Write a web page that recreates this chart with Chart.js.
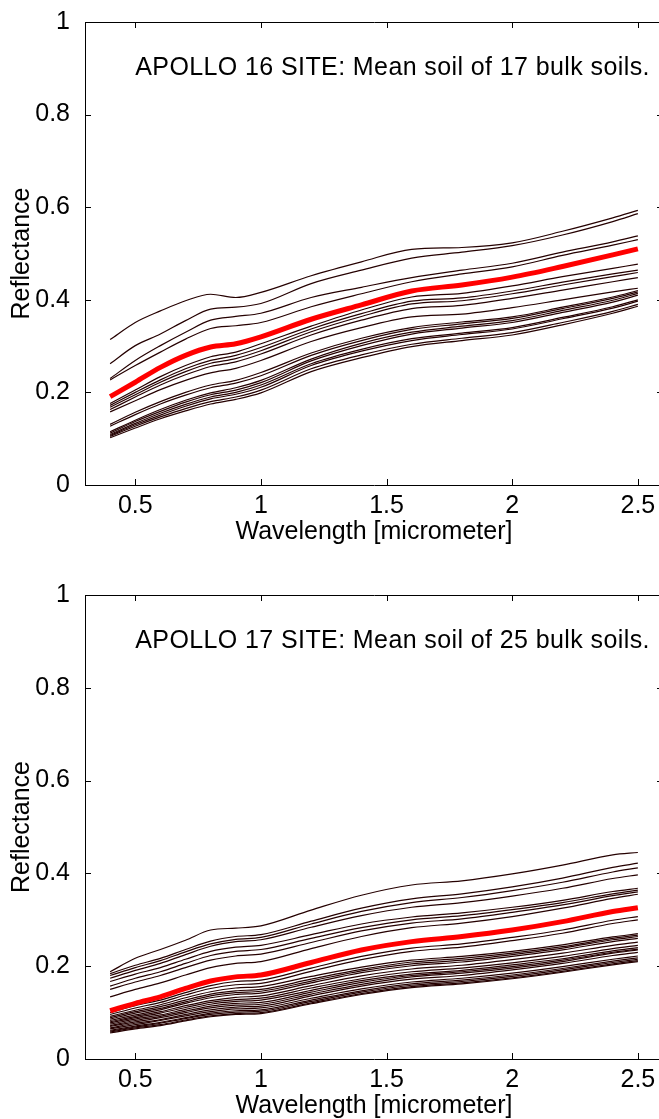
<!DOCTYPE html>
<html>
<head>
<meta charset="utf-8">
<script src="https://cdn.jsdelivr.net/npm/chart.js@4.4.1/dist/chart.umd.min.js"></script>
<style>
  html, body { margin: 0; padding: 0; background: #fff; overflow: hidden; }
  #wrap { position: relative; width: 659px; height: 1119px; overflow: hidden; }
  canvas { position: absolute; left: 0; }
  #top { top: 0; }
  #bottom { top: 555px; }
</style>
</head>
<body>
<div id="wrap">
  <canvas id="top" width="663" height="555"></canvas>
  <canvas id="bottom" width="663" height="574"></canvas>
</div>
<script>
// wavelengths [micrometer] the curves are sampled at
const wavelengths = [0.4, 0.5, 0.6, 0.7, 0.8, 0.9, 1.0, 1.2, 1.4, 1.6, 1.8, 2.0, 2.2, 2.4, 2.5];
const xTicks = [0.5, 1, 1.5, 2, 2.5];
const yTicks = [0, 0.2, 0.4, 0.6, 0.8, 1];

// Apollo 16: 17 bulk soils + mean
const a16Soils = [
  [0.314, 0.351, 0.376, 0.398, 0.412, 0.405, 0.416, 0.452, 0.482, 0.509, 0.513, 0.523, 0.548, 0.577, 0.593],
  [0.262, 0.301, 0.326, 0.355, 0.380, 0.384, 0.392, 0.435, 0.464, 0.490, 0.503, 0.517, 0.540, 0.569, 0.586],
  [0.230, 0.269, 0.301, 0.330, 0.356, 0.364, 0.371, 0.405, 0.427, 0.448, 0.464, 0.479, 0.503, 0.525, 0.538],
  [0.227, 0.258, 0.287, 0.315, 0.338, 0.344, 0.351, 0.385, 0.413, 0.439, 0.456, 0.471, 0.496, 0.518, 0.530],
  [0.176, 0.205, 0.234, 0.258, 0.277, 0.287, 0.305, 0.343, 0.378, 0.406, 0.414, 0.430, 0.450, 0.468, 0.477],
  [0.172, 0.200, 0.227, 0.251, 0.269, 0.280, 0.297, 0.337, 0.370, 0.397, 0.404, 0.419, 0.438, 0.456, 0.464],
  [0.168, 0.195, 0.222, 0.245, 0.263, 0.273, 0.290, 0.331, 0.364, 0.391, 0.398, 0.413, 0.432, 0.450, 0.459],
  [0.163, 0.190, 0.216, 0.238, 0.256, 0.266, 0.283, 0.324, 0.356, 0.381, 0.388, 0.403, 0.421, 0.439, 0.448],
  [0.158, 0.182, 0.206, 0.226, 0.242, 0.252, 0.269, 0.310, 0.340, 0.363, 0.369, 0.383, 0.400, 0.417, 0.425],
  [0.131, 0.157, 0.180, 0.200, 0.216, 0.226, 0.243, 0.285, 0.317, 0.340, 0.352, 0.363, 0.384, 0.406, 0.420],
  [0.127, 0.152, 0.175, 0.194, 0.210, 0.220, 0.236, 0.280, 0.312, 0.336, 0.348, 0.360, 0.381, 0.403, 0.417],
  [0.115, 0.140, 0.163, 0.183, 0.199, 0.210, 0.226, 0.272, 0.306, 0.330, 0.343, 0.355, 0.377, 0.399, 0.414],
  [0.112, 0.137, 0.159, 0.179, 0.195, 0.205, 0.221, 0.268, 0.301, 0.326, 0.339, 0.351, 0.373, 0.395, 0.410],
  [0.109, 0.133, 0.155, 0.174, 0.190, 0.200, 0.216, 0.262, 0.293, 0.316, 0.328, 0.340, 0.362, 0.385, 0.400],
  [0.107, 0.130, 0.151, 0.170, 0.186, 0.196, 0.211, 0.258, 0.289, 0.312, 0.325, 0.337, 0.359, 0.382, 0.397],
  [0.105, 0.127, 0.147, 0.165, 0.180, 0.190, 0.205, 0.251, 0.281, 0.304, 0.317, 0.329, 0.351, 0.375, 0.390],
  [0.102, 0.123, 0.143, 0.160, 0.175, 0.185, 0.199, 0.245, 0.275, 0.299, 0.312, 0.324, 0.346, 0.371, 0.386]
];
const a16Mean = [0.191, 0.222, 0.254, 0.280, 0.298, 0.305, 0.320, 0.358, 0.389, 0.419, 0.432, 0.449, 0.472, 0.497, 0.510];

// Apollo 17: 25 bulk soils + mean
const a17Soils = [
  [0.188, 0.217, 0.236, 0.256, 0.278, 0.282, 0.287, 0.321, 0.353, 0.375, 0.384, 0.399, 0.418, 0.440, 0.445],
  [0.184, 0.202, 0.217, 0.236, 0.254, 0.264, 0.268, 0.297, 0.325, 0.345, 0.356, 0.371, 0.390, 0.413, 0.422],
  [0.180, 0.197, 0.212, 0.231, 0.248, 0.258, 0.262, 0.291, 0.318, 0.337, 0.348, 0.363, 0.381, 0.403, 0.412],
  [0.174, 0.191, 0.206, 0.225, 0.243, 0.253, 0.257, 0.284, 0.309, 0.327, 0.337, 0.351, 0.368, 0.389, 0.397],
  [0.167, 0.183, 0.197, 0.215, 0.232, 0.241, 0.245, 0.268, 0.291, 0.306, 0.315, 0.327, 0.342, 0.361, 0.368],
  [0.157, 0.174, 0.188, 0.206, 0.223, 0.232, 0.236, 0.260, 0.283, 0.300, 0.309, 0.322, 0.337, 0.356, 0.364],
  [0.150, 0.166, 0.180, 0.197, 0.213, 0.222, 0.226, 0.251, 0.276, 0.293, 0.302, 0.316, 0.332, 0.352, 0.360],
  [0.134, 0.150, 0.164, 0.181, 0.197, 0.206, 0.210, 0.238, 0.264, 0.283, 0.293, 0.307, 0.325, 0.346, 0.355],
  [0.100, 0.115, 0.127, 0.143, 0.158, 0.167, 0.170, 0.196, 0.221, 0.239, 0.248, 0.262, 0.278, 0.299, 0.307],
  [0.096, 0.110, 0.122, 0.138, 0.152, 0.160, 0.163, 0.189, 0.214, 0.232, 0.241, 0.255, 0.271, 0.292, 0.300],
  [0.092, 0.105, 0.117, 0.132, 0.145, 0.153, 0.156, 0.178, 0.198, 0.213, 0.221, 0.232, 0.246, 0.263, 0.270],
  [0.089, 0.102, 0.113, 0.127, 0.140, 0.147, 0.150, 0.172, 0.193, 0.209, 0.217, 0.228, 0.242, 0.260, 0.267],
  [0.086, 0.099, 0.109, 0.123, 0.136, 0.143, 0.146, 0.168, 0.190, 0.205, 0.213, 0.225, 0.239, 0.257, 0.264],
  [0.083, 0.095, 0.106, 0.120, 0.132, 0.139, 0.142, 0.164, 0.186, 0.201, 0.209, 0.221, 0.235, 0.253, 0.260],
  [0.080, 0.092, 0.102, 0.115, 0.126, 0.133, 0.136, 0.158, 0.179, 0.194, 0.202, 0.214, 0.228, 0.245, 0.252],
  [0.078, 0.089, 0.099, 0.111, 0.122, 0.128, 0.131, 0.153, 0.173, 0.188, 0.196, 0.207, 0.221, 0.238, 0.245],
  [0.075, 0.086, 0.095, 0.107, 0.118, 0.124, 0.127, 0.148, 0.169, 0.183, 0.191, 0.203, 0.216, 0.233, 0.240],
  [0.072, 0.083, 0.092, 0.103, 0.114, 0.120, 0.122, 0.144, 0.165, 0.180, 0.188, 0.199, 0.213, 0.230, 0.237],
  [0.070, 0.080, 0.089, 0.100, 0.110, 0.116, 0.118, 0.140, 0.161, 0.177, 0.185, 0.196, 0.210, 0.228, 0.235],
  [0.067, 0.077, 0.085, 0.096, 0.106, 0.112, 0.114, 0.136, 0.157, 0.172, 0.180, 0.192, 0.206, 0.223, 0.230],
  [0.065, 0.074, 0.083, 0.093, 0.102, 0.108, 0.110, 0.131, 0.151, 0.166, 0.174, 0.185, 0.199, 0.215, 0.222],
  [0.062, 0.071, 0.079, 0.089, 0.099, 0.104, 0.106, 0.127, 0.147, 0.162, 0.170, 0.181, 0.195, 0.211, 0.218],
  [0.060, 0.069, 0.077, 0.087, 0.096, 0.101, 0.103, 0.124, 0.144, 0.159, 0.167, 0.178, 0.192, 0.208, 0.215],
  [0.058, 0.067, 0.074, 0.084, 0.093, 0.098, 0.100, 0.121, 0.141, 0.156, 0.164, 0.175, 0.189, 0.205, 0.212],
  [0.056, 0.065, 0.072, 0.082, 0.091, 0.096, 0.098, 0.119, 0.139, 0.154, 0.162, 0.173, 0.187, 0.203, 0.210]
];
const a17Mean = [0.104, 0.120, 0.134, 0.152, 0.168, 0.177, 0.181, 0.208, 0.235, 0.253, 0.264, 0.278, 0.296, 0.318, 0.326];

const FONT = '"Liberation Sans", Arial, Helvetica, sans-serif';
Chart.defaults.color = '#000';
Chart.defaults.font.family = FONT;

function toPoints(values) {
  return wavelengths.map((w, i) => ({ x: w, y: values[i] }));
}

// box around the plot with ticks pointing inwards, plus the caption
const boxPlugin = {
  id: 'box',
  afterDraw(chart, args, opts) {
    const ctx = chart.ctx;
    const a = chart.chartArea;
    const xs = chart.scales.x, ys = chart.scales.y;
    const len = 6;
    ctx.save();
    ctx.strokeStyle = '#000';
    ctx.lineWidth = 1;
    ctx.beginPath();
    ctx.rect(Math.round(a.left) + 0.5, Math.round(a.top) + 0.5, Math.round(a.right - a.left), Math.round(a.bottom - a.top));
    xTicks.forEach(v => {
      const px = Math.round(xs.getPixelForValue(v)) + 0.5;
      ctx.moveTo(px, a.bottom); ctx.lineTo(px, a.bottom - len);
      ctx.moveTo(px, a.top); ctx.lineTo(px, a.top + len);
    });
    yTicks.forEach(v => {
      const py = Math.round(ys.getPixelForValue(v)) + 0.5;
      ctx.moveTo(a.left, py); ctx.lineTo(a.left + len, py);
      ctx.moveTo(a.right, py); ctx.lineTo(a.right - len, py);
    });
    ctx.stroke();
    ctx.fillStyle = '#000';
    ctx.font = '25px ' + FONT;
    ctx.letterSpacing = '0.4px';
    ctx.textAlign = 'left';
    ctx.textBaseline = 'middle';
    ctx.fillText(opts.caption, xs.getPixelForValue(0.5), ys.getPixelForValue(0.9));
    ctx.restore();
  }
};

function makeChart(id, soils, mean, caption, padTop) {
  const datasets = [{
    data: toPoints(mean),
    borderColor: '#ff0000',
    borderWidth: 5,
    order: 0
  }];
  soils.forEach(s => datasets.push({
    data: toPoints(s),
    borderColor: '#250000',
    borderWidth: 1.2,
    order: 1
  }));

  return new Chart(document.getElementById(id), {
    type: 'line',
    data: { datasets: datasets },
    plugins: [boxPlugin],
    options: {
      responsive: false,
      animation: false,
      devicePixelRatio: 1,
      layout: { padding: { top: padTop, left: 0, right: 0, bottom: 0 } },
      elements: {
        point: { radius: 0 },
        line: { cubicInterpolationMode: 'monotone', fill: false }
      },
      plugins: {
        legend: { display: false },
        tooltip: { enabled: false },
        box: { caption: caption }
      },
      scales: {
        x: {
          type: 'linear',
          min: 0.3,
          max: 2.6,
          grid: { display: false },
          border: { display: false },
          afterBuildTicks: s => { s.ticks = xTicks.map(v => ({ value: v })); },
          afterFit: s => { s.height = 70; },
          ticks: {
            font: { size: 25, lineHeight: 1 },
            padding: 1,
            maxRotation: 0,
            autoSkip: false,
            callback: v => String(v)
          },
          title: {
            display: true,
            text: 'Wavelength [micrometer]',
            font: { size: 25, lineHeight: 1 },
            padding: { top: 0, bottom: 10 }
          }
        },
        y: {
          min: 0,
          max: 1,
          grid: { display: false },
          border: { display: false },
          afterBuildTicks: s => { s.ticks = yTicks.map(v => ({ value: v })); },
          afterFit: s => { s.width = 85; },
          ticks: {
            font: { size: 25 },
            padding: 7,
            callback: v => String(v)
          },
          title: {
            display: true,
            text: 'Reflectance',
            font: { size: 25, lineHeight: 1 },
            padding: { top: 10, bottom: 0 }
          }
        }
      }
    }
  });
}

makeChart('top', a16Soils, a16Mean, 'APOLLO 16 SITE: Mean soil of 17 bulk soils.', 20);
makeChart('bottom', a17Soils, a17Mean, 'APOLLO 17 SITE: Mean soil of 25 bulk soils.', 40);
</script>
</body>
</html>
